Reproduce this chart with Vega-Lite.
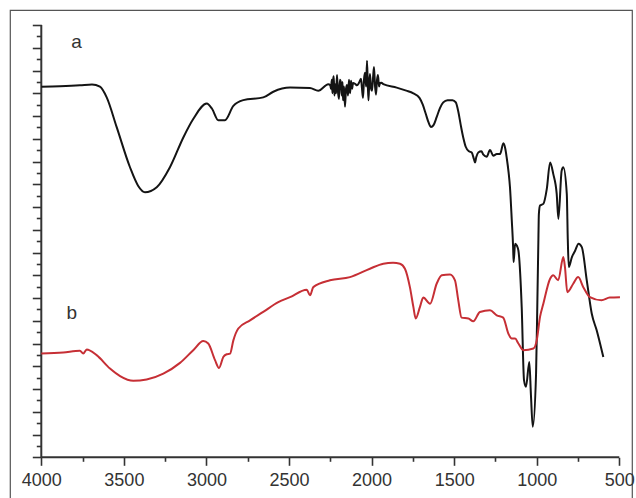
{
  "$schema": "https://vega.github.io/schema/vega-lite/v6.json",
  "autosize": {"type": "none"},
  "padding": {"left": 10, "top": 10, "right": 4, "bottom": 0},
  "width": 622,
  "height": 490,
  "background": "white",
  "config": {"view": {"stroke": "#555555", "strokeWidth": 1.2}},
  "datasets": {
    "spectra": [
      {"s":"a","x":4000,"y":16.29},{"s":"a","x":3887,"y":16.31},{"s":"a","x":3766,"y":16.35},{"s":"a","x":3693,"y":16.39},{"s":"a","x":3645,"y":16.29},{"s":"a","x":3604,"y":15.82},{"s":"a","x":3543,"y":14.5},{"s":"a","x":3463,"y":12.75},{"s":"a","x":3414,"y":11.94},{"s":"a","x":3372,"y":11.65},{"s":"a","x":3301,"y":11.87},{"s":"a","x":3221,"y":12.75},{"s":"a","x":3140,"y":14.06},{"s":"a","x":3080,"y":14.87},{"s":"a","x":2998,"y":15.55},{"s":"a","x":2966,"y":15.32},{"s":"a","x":2928,"y":14.82},{"s":"a","x":2888,"y":14.82},{"s":"a","x":2837,"y":15.45},{"s":"a","x":2777,"y":15.7},{"s":"a","x":2656,"y":15.82},{"s":"a","x":2595,"y":16.07},{"s":"a","x":2494,"y":16.25},{"s":"a","x":2373,"y":16.23},{"s":"a","x":2323,"y":16.11},{"s":"a","x":2262,"y":16.4},
      {"s":"a","x":2250,"y":16.35},{"s":"a","x":2245.7,"y":16.2},{"s":"a","x":2241,"y":16.6},{"s":"a","x":2237,"y":16.0},{"s":"a","x":2233.6,"y":16.55},{"s":"a","x":2229,"y":16.75},{"s":"a","x":2225,"y":15.9},{"s":"a","x":2221.5,"y":16.4},{"s":"a","x":2215,"y":16.0},{"s":"a","x":2209.4,"y":16.81},{"s":"a","x":2204,"y":16.1},{"s":"a","x":2197.3,"y":15.75},{"s":"a","x":2192,"y":16.6},{"s":"a","x":2185.2,"y":16.46},{"s":"a","x":2180,"y":15.9},{"s":"a","x":2176,"y":16.5},{"s":"a","x":2173,"y":15.69},{"s":"a","x":2167,"y":16.3},{"s":"a","x":2160.9,"y":15.41},{"s":"a","x":2155,"y":16.2},{"s":"a","x":2148.8,"y":16.37},{"s":"a","x":2143,"y":15.9},{"s":"a","x":2136.7,"y":16.6},{"s":"a","x":2130,"y":16.0},{"s":"a","x":2124.6,"y":16.55},{"s":"a","x":2118,"y":16.2},{"s":"a","x":2112.5,"y":16.45},{"s":"a","x":2100.4,"y":16.42},{"s":"a","x":2088.3,"y":16.35},{"s":"a","x":2076.2,"y":16.46},{"s":"a","x":2064.1,"y":16.64},{"s":"a","x":2058,"y":16.2},{"s":"a","x":2052,"y":15.8},{"s":"a","x":2046,"y":16.6},{"s":"a","x":2039.9,"y":16.9},{"s":"a","x":2033,"y":16.3},{"s":"a","x":2027.8,"y":17.43},{"s":"a","x":2023,"y":16.4},{"s":"a","x":2018.7,"y":15.69},{"s":"a","x":2014,"y":16.5},{"s":"a","x":2009.7,"y":16.85},{"s":"a","x":2003,"y":16.2},{"s":"a","x":1997.6,"y":16.11},{"s":"a","x":1991,"y":16.7},{"s":"a","x":1985.4,"y":17.16},{"s":"a","x":1979,"y":16.3},{"s":"a","x":1973.3,"y":15.94},{"s":"a","x":1967,"y":16.6},{"s":"a","x":1961.2,"y":16.81},{"s":"a","x":1955,"y":16.3},{"s":"a","x":1949.1,"y":16.45},{"s":"a","x":1940,"y":16.46},
      {"s":"a","x":1929,"y":16.4},{"s":"a","x":1848,"y":16.25},{"s":"a","x":1790,"y":16.12},{"s":"a","x":1747,"y":16.0},{"s":"a","x":1710,"y":15.8},{"s":"a","x":1690,"y":15.5},{"s":"a","x":1672,"y":15.1},{"s":"a","x":1655,"y":14.72},{"s":"a","x":1640,"y":14.52},{"s":"a","x":1625,"y":14.6},{"s":"a","x":1606,"y":14.95},{"s":"a","x":1586,"y":15.35},{"s":"a","x":1566,"y":15.6},{"s":"a","x":1540,"y":15.7},{"s":"a","x":1510,"y":15.7},{"s":"a","x":1490,"y":15.6},{"s":"a","x":1475,"y":15.2},{"s":"a","x":1460,"y":14.6},{"s":"a","x":1445,"y":14.06},{"s":"a","x":1430,"y":13.65},{"s":"a","x":1410,"y":13.45},{"s":"a","x":1394,"y":13.4},{"s":"a","x":1380,"y":13.1},{"s":"a","x":1374,"y":12.96},{"s":"a","x":1366,"y":13.2},{"s":"a","x":1354,"y":13.4},{"s":"a","x":1335,"y":13.45},{"s":"a","x":1323,"y":13.3},{"s":"a","x":1303,"y":13.21},{"s":"a","x":1283,"y":13.51},{"s":"a","x":1263,"y":13.26},{"s":"a","x":1242,"y":13.33},{"s":"a","x":1222,"y":13.33},{"s":"a","x":1202,"y":13.8},{"s":"a","x":1190,"y":13.55},{"s":"a","x":1182,"y":13.18},{"s":"a","x":1170,"y":12.5},{"s":"a","x":1162,"y":11.87},{"s":"a","x":1151,"y":10.41},{"s":"a","x":1143,"y":9.24},{"s":"a","x":1140,"y":8.58},{"s":"a","x":1131,"y":9.39},{"s":"a","x":1120,"y":9.3},{"s":"a","x":1111,"y":9.09},{"s":"a","x":1091,"y":6.61},{"s":"a","x":1077,"y":3.39},{"s":"a","x":1065,"y":3.1},{"s":"a","x":1045,"y":4.19},{"s":"a","x":1035,"y":2.73},{"s":"a","x":1024,"y":1.34},{"s":"a","x":1004,"y":3.68},{"s":"a","x":996,"y":6.9},{"s":"a","x":990,"y":9.54},{"s":"a","x":987,"y":10.7},{"s":"a","x":980,"y":11.07},{"s":"a","x":960,"y":11.14},{"s":"a","x":939,"y":11.8},{"s":"a","x":919,"y":12.96},{"s":"a","x":900,"y":12.46},{"s":"a","x":879,"y":11.58},{"s":"a","x":869,"y":10.48},{"s":"a","x":849,"y":12.6},{"s":"a","x":839,"y":12.75},{"s":"a","x":818,"y":11.58},{"s":"a","x":812,"y":9.6},{"s":"a","x":806,"y":8.36},{"s":"a","x":787,"y":8.8},{"s":"a","x":767,"y":9.09},{"s":"a","x":747,"y":9.39},{"s":"a","x":727,"y":9.24},{"s":"a","x":697,"y":7.78},{"s":"a","x":667,"y":6.32},{"s":"a","x":637,"y":5.58},{"s":"a","x":597,"y":4.41},
      {"s":"b","x":4000,"y":4.56},{"s":"b","x":3867,"y":4.61},{"s":"b","x":3766,"y":4.68},{"s":"b","x":3746,"y":4.56},{"s":"b","x":3725,"y":4.74},{"s":"b","x":3665,"y":4.49},{"s":"b","x":3584,"y":3.9},{"s":"b","x":3523,"y":3.57},{"s":"b","x":3443,"y":3.36},{"s":"b","x":3362,"y":3.42},{"s":"b","x":3261,"y":3.68},{"s":"b","x":3160,"y":4.15},{"s":"b","x":3080,"y":4.71},{"s":"b","x":3019,"y":5.11},{"s":"b","x":2989,"y":5.0},{"s":"b","x":2948,"y":4.27},{"s":"b","x":2924,"y":3.93},{"s":"b","x":2898,"y":4.41},{"s":"b","x":2877,"y":4.53},{"s":"b","x":2857,"y":4.56},{"s":"b","x":2837,"y":5.14},{"s":"b","x":2807,"y":5.66},{"s":"b","x":2736,"y":6.02},{"s":"b","x":2656,"y":6.39},{"s":"b","x":2565,"y":6.82},{"s":"b","x":2494,"y":7.04},{"s":"b","x":2393,"y":7.37},{"s":"b","x":2373,"y":7.12},{"s":"b","x":2353,"y":7.48},{"s":"b","x":2252,"y":7.78},{"s":"b","x":2131,"y":7.92},{"s":"b","x":2010,"y":8.29},{"s":"b","x":1929,"y":8.51},{"s":"b","x":1870,"y":8.55},{"s":"b","x":1828,"y":8.51},{"s":"b","x":1798,"y":8.29},{"s":"b","x":1768,"y":7.48},{"s":"b","x":1747,"y":6.61},{"s":"b","x":1733,"y":6.1},{"s":"b","x":1707,"y":6.61},{"s":"b","x":1687,"y":7.02},{"s":"b","x":1646,"y":6.75},{"s":"b","x":1606,"y":7.63},{"s":"b","x":1575,"y":8.0},{"s":"b","x":1525,"y":8.04},{"s":"b","x":1495,"y":7.78},{"s":"b","x":1475,"y":6.9},{"s":"b","x":1455,"y":6.14},{"s":"b","x":1414,"y":6.1},{"s":"b","x":1384,"y":5.98},{"s":"b","x":1344,"y":6.39},{"s":"b","x":1283,"y":6.46},{"s":"b","x":1242,"y":6.24},{"s":"b","x":1203,"y":6.14},{"s":"b","x":1172,"y":5.44},{"s":"b","x":1151,"y":5.22},{"s":"b","x":1131,"y":5.22},{"s":"b","x":1111,"y":5.0},{"s":"b","x":1081,"y":4.71},{"s":"b","x":1020,"y":4.78},{"s":"b","x":1000,"y":5.14},{"s":"b","x":980,"y":6.17},{"s":"b","x":960,"y":6.75},{"s":"b","x":919,"y":7.85},{"s":"b","x":900,"y":8.0},{"s":"b","x":870,"y":7.78},{"s":"b","x":839,"y":8.8},{"s":"b","x":829,"y":8.36},{"s":"b","x":815,"y":7.26},{"s":"b","x":779,"y":7.63},{"s":"b","x":749,"y":7.92},{"s":"b","x":718,"y":7.48},{"s":"b","x":678,"y":7.04},{"s":"b","x":608,"y":6.9},{"s":"b","x":558,"y":7.02},{"s":"b","x":496,"y":7.04}
    ],
    "axislines": [
      {"x":4000,"x2":500,"y":0,"y2":0},
      {"x":4000,"x2":4000,"y":0,"y2":19}
    ],
    "tags": [
      {"t":"a","x":3786,"y":18.27},
      {"t":"b","x":3816,"y":6.34}
    ]
  },
  "encoding": {
    "x": {"field": "x", "type": "quantitative",
      "scale": {"domain": [423.1, 4189.5], "reverse": true, "nice": false, "zero": false},
      "axis": {
        "orient": "bottom", "offset": -42.7, "domain": false, "grid": false, "title": null,
        "values": [4000,3750,3500,3250,3000,2750,2500,2250,2000,1750,1500,1250,1000,750,500],
        "tickColor": "#333333", "tickWidth": 1.6,
        "tickSize": {"condition": {"test": "datum.value % 500 === 0", "value": 8}, "value": 4},
        "labelExpr": "datum.value % 500 === 0 ? datum.label : ''",
        "labelFont": "Liberation Sans", "labelFontSize": 18, "labelColor": "#333333",
        "labelPadding": 6, "labelFlush": false, "labelOverlap": false, "format": "d"
      }
    },
    "y": {"field": "y", "type": "quantitative",
      "scale": {"domain": [-1.877, 19.662], "nice": false, "zero": false},
      "axis": {
        "orient": "left", "offset": -31.3, "domain": false, "grid": false, "title": null,
        "labels": false,
        "values": [0,0.5,1,1.5,2,2.5,3,3.5,4,4.5,5,5.5,6,6.5,7,7.5,8,8.5,9,9.5,10,10.5,11,11.5,12,12.5,13,13.5,14,14.5,15,15.5,16,16.5,17,17.5,18,18.5,19],
        "tickColor": "#333333", "tickWidth": 1.6,
        "tickSize": {"condition": {"test": "datum.value % 1 === 0", "value": 9}, "value": 5}
      }
    }
  },
  "layer": [
    {
      "data": {"name": "axislines"},
      "mark": {"type": "rule", "color": "#333333", "strokeWidth": 2},
      "encoding": {
        "x2": {"field": "x2"},
        "y2": {"field": "y2"}
      }
    },
    {
      "data": {"name": "spectra"},
      "mark": {"type": "line", "strokeWidth": 2, "interpolate": "monotone"},
      "encoding": {
        "color": {"field": "s", "type": "nominal",
          "scale": {"domain": ["a","b"], "range": ["#141414","#c62f35"]},
          "legend": null},
        "order": {"field": "x", "type": "quantitative"}
      }
    },
    {
      "data": {"name": "tags"},
      "mark": {"type": "text", "font": "Liberation Sans", "fontSize": 19, "color": "#333333", "align": "center", "baseline": "middle"},
      "encoding": {
        "text": {"field": "t"}
      }
    }
  ]
}
